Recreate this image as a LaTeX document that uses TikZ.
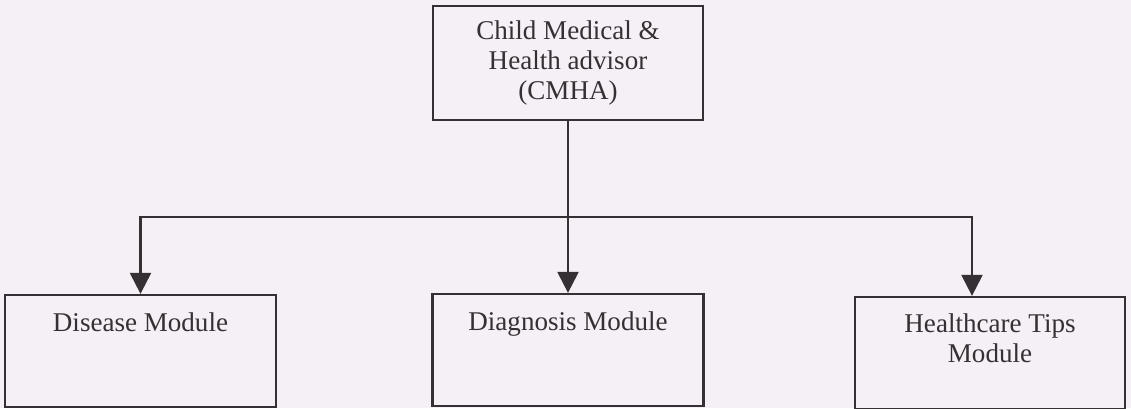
\documentclass[tikz,border=0pt]{standalone}
\usepackage{fontspec}
\setmainfont{Liberation Serif}
\usetikzlibrary{arrows.meta}
\definecolor{paper}{RGB}{245,240,245}
\definecolor{ink}{RGB}{52,48,52}

\begin{document}
\begin{tikzpicture}[
    box/.style={draw=ink, line width=1.3pt, inner sep=0pt,
      minimum width=5.42cm, minimum height=2.24cm},
    txt/.style={font=\fontsize{15.4}{17}\selectfont, text=ink, align=center},
    link/.style={draw=ink, line width=1.3pt},
    tip/.style={link, -{Triangle[length=0.42cm, width=0.42cm]}}]
  \useasboundingbox[fill=paper] (0,0) rectangle (22.62,8.16);
  % top of the tree
  \node[box, txt, minimum width=5.4cm, minimum height=2.28cm] (cmha) at
    (11.36,6.9) {Child Medical \&\\Health advisor\\(CMHA)};
  % the three modules
  \node[box, label={[name=diseasetxt, txt, inner sep=0pt, anchor=north,
    yshift=-0.38cm]north:Disease Module}] (disease) at (2.81,1.14) {};
  \node[box, label={[name=diagtxt, txt, inner sep=0pt, anchor=north,
    yshift=-0.38cm]north:Diagnosis Module}] (diag) at (11.36,1.16) {};
  \node[box, minimum width=5.4cm, label={[name=tipstxt, txt, inner sep=0pt,
    anchor=north, yshift=-0.36cm]north:Healthcare Tips\\Module}] (tips) at
    (19.8,1.1) {};
  \coordinate (bar) at (11.36,3.82);
  \coordinate (tipsin) at ([xshift=-0.36cm]tips.north);
  % connectors
  \draw[link] (cmha.south) -- (bar);
  \draw[tip] (bar) -- (diag.north);
  \draw[tip] (bar) -| (disease.north);
  \draw[tip] (bar) -| (tipsin);
\end{tikzpicture}
\end{document}
